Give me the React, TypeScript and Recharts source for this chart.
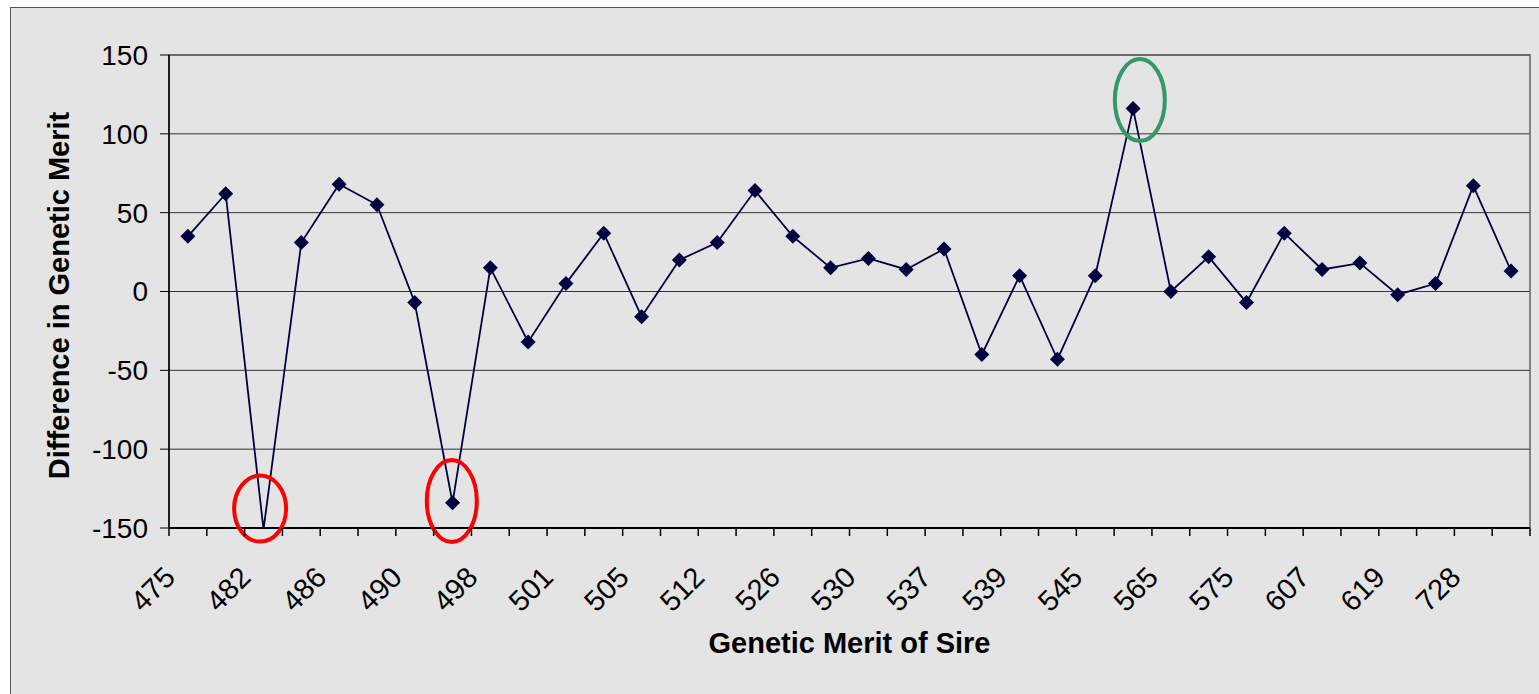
import {
  LineChart, Line, XAxis, YAxis, CartesianGrid, ReferenceArea, ReferenceDot, Label,
} from "recharts";

// only every other sire is labelled on the axis
const sireLabels = [
  "475", "482", "486", "490", "498", "501", "505", "512", "526",
  "530", "537", "539", "545", "565", "575", "607", "619", "728",
];
const meritDiff = [
  35, 62, -151, 31, 68, 55, -7, -134, 15, -32, 5, 37, -16, 20, 31, 64, 35, 15,
  21, 14, 27, -40, 10, -43, 10, 116, 0, 22, -7, 37, 14, 18, -2, 5, 67, 13,
];
const yTicks = [-150, -100, -50, 0, 50, 100, 150];

// circled points (data coords)
const circled = [
  { x: 2.41, y: -137.7, rx: 26, ry: 33, color: "#ff0000" },
  { x: 7.48, y: -132.9, rx: 25, ry: 41, color: "#ff0000" },
  { x: 25.68, y: 121.4, rx: 25, ry: 41, color: "#339966" },
];

const FONT = "'Liberation Sans', Arial, sans-serif";
const NAVY = "#000040";

const data = meritDiff.map((v, i) => ({ x: i + 0.5, v }));
const n = meritDiff.length;
const xTicks = [
  ...Array.from({ length: n + 1 }, (_, i) => i),
  ...sireLabels.map((_, k) => k * 2 + 0.5),
].sort((a, b) => a - b);

function SireTick({ x, y, payload }: any) {
  const v = payload.value as number;
  if (Number.isInteger(v)) {
    return <line x1={x} x2={x} y1={y} y2={y + 8} stroke="#000" strokeWidth={1.5} />;
  }
  const k = Math.round(v - 0.5) / 2;
  return (
    <text transform={`translate(${x - 11},${y + 51}) rotate(-45)`} textAnchor="end"
      fontSize={29} fontFamily={FONT} fill="#000">
      {sireLabels[k]}
    </text>
  );
}

function Diamond({ cx, cy, value, index }: any) {
  if (value < -150) return <g key={`d${index}`} />;
  const s = 7.5;
  return (
    <polygon key={`d${index}`} fill={NAVY}
      points={`${cx},${cy - s} ${cx + s},${cy} ${cx},${cy + s} ${cx - s},${cy}`} />
  );
}

export default function App() {
  return (
    <div style={{ position: "absolute", left: 0, top: 0, width: 1539, height: 694, overflow: "hidden", background: "#fff" }}>
      <div style={{
        position: "absolute", left: 10, top: 7, width: 1600, height: 760,
        border: "1px solid #555", background: "#e4e4e4",
      }} />
      <div style={{ position: "absolute", left: 0, top: 0 }}>
        <LineChart width={1539} height={694} data={data}
          margin={{ top: 55, right: 9, bottom: 0, left: 0 }}>
          <CartesianGrid vertical={false} stroke="#333" />
          <ReferenceArea x1={0} x2={n} y1={-150} y2={150} fill="none" stroke="#606060" strokeWidth={1.5} />
          <XAxis dataKey="x" type="number" domain={[0, n]} ticks={xTicks} interval={0}
            height={166} tickSize={0} tickMargin={0} tickLine={false}
            axisLine={{ stroke: "#000", strokeWidth: 2 }}
            tick={(p: any) => <SireTick {...p} />}>
            <Label content={(p: any) => {
              const vb = p.viewBox || {};
              return (
                <text x={vb.x + vb.width / 2} y={vb.y + 125} textAnchor="middle"
                  fontSize={29} fontWeight="bold" fontFamily={FONT} fill="#000">
                  Genetic Merit of Sire
                </text>
              );
            }} />
          </XAxis>
          <YAxis type="number" domain={[-150, 150]} ticks={yTicks} allowDataOverflow
            width={169} tickSize={9} tickMargin={12}
            tick={{ fontSize: 28, fill: "#000", fontFamily: FONT }}
            tickLine={{ stroke: "#000" }} axisLine={{ stroke: "#000", strokeWidth: 1.5 }}>
            <Label content={(p: any) => {
              const vb = p.viewBox || {};
              const cx = vb.x + 59;
              const cy = vb.y + vb.height / 2 + 4;
              return (
                <text x={cx} y={cy} transform={`rotate(-90, ${cx}, ${cy})`} textAnchor="middle"
                  dominantBaseline="central" fontSize={29} fontWeight="bold" fontFamily={FONT} fill="#000">
                  Difference in Genetic Merit
                </text>
              );
            }} />
          </YAxis>
          <Line type="linear" dataKey="v" stroke={NAVY} strokeWidth={1.8}
            dot={(p: any) => <Diamond key={`d${p.index}`} {...p} />} activeDot={false}
            isAnimationActive={false} />
          {circled.map((c, i) => (
            <ReferenceDot key={i} x={c.x} y={c.y} ifOverflow="visible" r={1}
              shape={(p: any) => (
                <ellipse cx={p.cx} cy={p.cy} rx={c.rx} ry={c.ry} fill="none"
                  stroke={c.color} strokeWidth={4} />
              )} />
          ))}
        </LineChart>
      </div>
    </div>
  );
}
